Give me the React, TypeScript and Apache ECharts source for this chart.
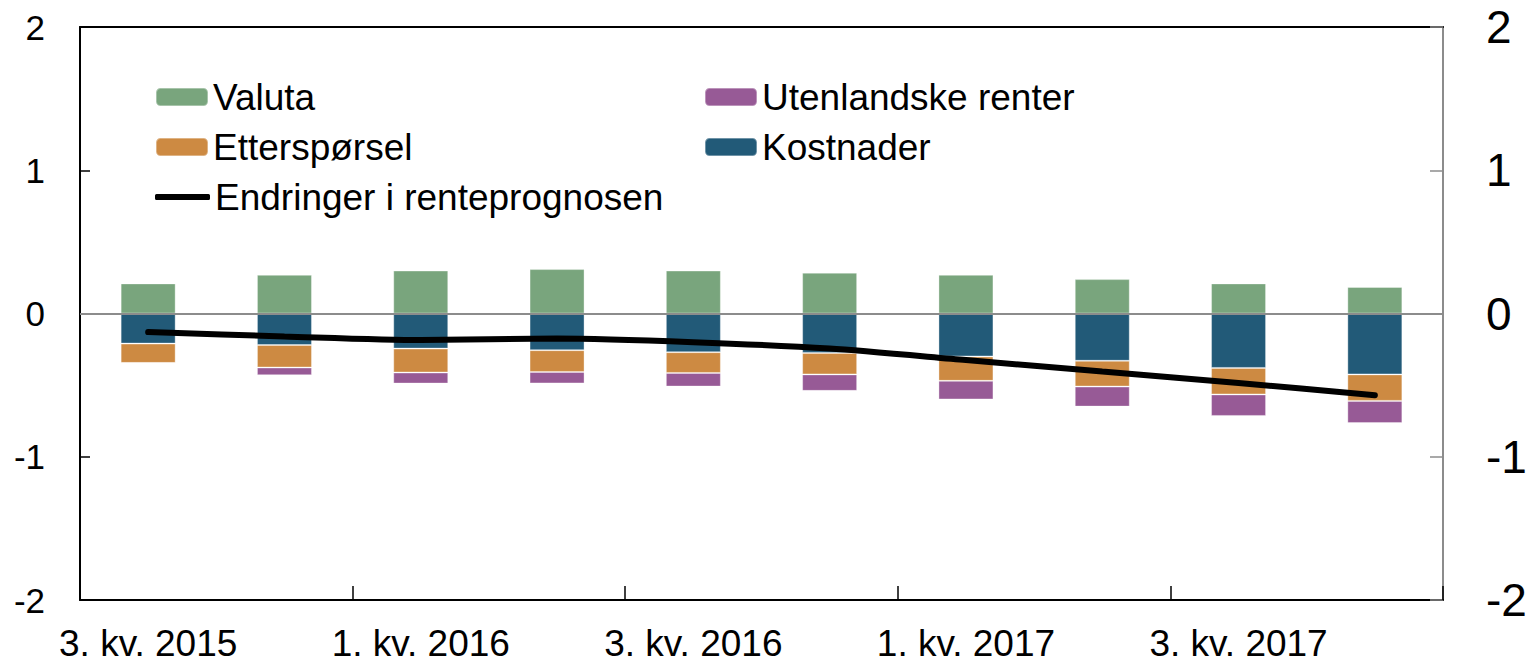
import React, { useEffect, useRef } from "react";
import * as echarts from "echarts";

const categories = [
  "3. kv. 2015", "4. kv. 2015", "1. kv. 2016", "2. kv. 2016", "3. kv. 2016",
  "4. kv. 2016", "1. kv. 2017", "2. kv. 2017", "3. kv. 2017", "4. kv. 2017",
];
const valuta = [0.21, 0.27, 0.30, 0.31, 0.30, 0.285, 0.27, 0.24, 0.21, 0.185];
const kostnader = [-0.21, -0.22, -0.245, -0.256, -0.27, -0.275, -0.30, -0.33, -0.38, -0.425];
const ettersporsel = [-0.135, -0.157, -0.167, -0.152, -0.145, -0.15, -0.17, -0.18, -0.185, -0.185];
const utenlandske = [0, -0.054, -0.077, -0.08, -0.095, -0.115, -0.13, -0.14, -0.15, -0.155];
const renteprognose = [-0.13, -0.16, -0.185, -0.175, -0.2, -0.245, -0.325, -0.405, -0.485, -0.57];
const yTicks = { min: -2, max: 2, interval: 1 };

const FONT = "'Liberation Sans', Arial, Helvetica, sans-serif";
const C_GREEN = "#79A57D";
const C_BLUE = "#225A78";
const C_ORANGE = "#CD8A42";
const C_PURPLE = "#975A96";

export default function App() {
  const ref = useRef<HTMLDivElement>(null);
  useEffect(() => {
    if (!ref.current) return;
    const chart = echarts.init(ref.current, undefined, { renderer: "svg" });
    const barCommon = {
      type: "bar",
      stack: "total",
      barWidth: 55,
      xAxisIndex: 0,
      yAxisIndex: 0,
    };
    const legendText = { fontSize: 37, color: "#000", fontFamily: FONT, lineHeight: 38 };
    chart.setOption({
      animation: false,
      textStyle: { fontFamily: FONT },
      grid: { left: 80, right: 93, top: 27, bottom: 63, containLabel: false },
      legend: [
        {
          left: 150,
          top: 73,
          orient: "vertical",
          itemWidth: 52,
          itemHeight: 18,
          itemGap: 12,
          data: ["Valuta", "Etterspørsel"],
          textStyle: legendText,
        },
        {
          left: 699,
          top: 73,
          orient: "vertical",
          itemWidth: 52,
          itemHeight: 18,
          itemGap: 12,
          data: ["Utenlandske renter", "Kostnader"],
          textStyle: legendText,
        },
        {
          left: 150,
          top: 173,
          orient: "vertical",
          itemWidth: 55,
          itemHeight: 6,
          icon: "roundRect",
          data: ["Endringer i renteprognosen"],
          textStyle: legendText,
        },
      ],
      xAxis: [
        {
          type: "category",
          data: categories,
          position: "bottom",
          boundaryGap: true,
          axisLine: { show: true, onZero: false, lineStyle: { color: "#000", width: 2 } },
          axisTick: { show: true, inside: true, interval: 1, length: 14, lineStyle: { color: "#000", width: 1.5 } },
          axisLabel: { interval: 1, fontSize: 37, lineHeight: 34, color: "#000", margin: 26, fontFamily: FONT },
          splitLine: { show: false },
        },
        {
          type: "category",
          data: categories,
          position: "top",
          axisLine: { show: true, onZero: false, lineStyle: { color: "#000", width: 2 } },
          axisTick: { show: false },
          axisLabel: { show: false },
          splitLine: { show: false },
        },
      ],
      yAxis: [
        {
          type: "value",
          position: "left",
          min: yTicks.min,
          max: yTicks.max,
          interval: yTicks.interval,
          axisLine: { show: true, lineStyle: { color: "#000", width: 2 } },
          axisTick: { show: true, inside: true, length: 10, lineStyle: { color: "#000", width: 1.5 } },
          axisLabel: { fontSize: 35, color: "#000", margin: 35, fontFamily: FONT },
          splitLine: { show: false },
        },
        {
          type: "value",
          position: "right",
          min: yTicks.min,
          max: yTicks.max,
          interval: yTicks.interval,
          axisLine: { show: true, lineStyle: { color: "#8c8c8c", width: 2 } },
          axisTick: { show: true, inside: true, length: 13, lineStyle: { color: "#8c8c8c", width: 1.5 } },
          axisLabel: { fontSize: 46, color: "#000", margin: 43, fontFamily: FONT },
          splitLine: { show: false },
        },
      ],
      series: [
        {
          ...barCommon,
          name: "Valuta",
          data: valuta,
          itemStyle: { color: C_GREEN, borderColor: "rgba(255,255,255,0.35)", borderWidth: 1 },
          markLine: {
            silent: true,
            symbol: "none",
            label: { show: false },
            lineStyle: { color: "#8c8c8c", width: 2, type: "solid" },
            data: [{ yAxis: 0 }],
          },
        },
        {
          ...barCommon,
          name: "Kostnader",
          data: kostnader,
          itemStyle: { color: C_BLUE, borderColor: "rgba(255,255,255,0.35)", borderWidth: 1 },
        },
        {
          ...barCommon,
          name: "Etterspørsel",
          data: ettersporsel,
          itemStyle: { color: C_ORANGE, borderColor: "rgba(255,255,255,0.35)", borderWidth: 1 },
        },
        {
          ...barCommon,
          name: "Utenlandske renter",
          data: utenlandske,
          itemStyle: { color: C_PURPLE, borderColor: "rgba(255,255,255,0.35)", borderWidth: 1 },
        },
        {
          type: "line",
          name: "Endringer i renteprognosen",
          data: renteprognose,
          xAxisIndex: 0,
          yAxisIndex: 0,
          symbol: "none",
          smooth: 0.25,
          z: 5,
          lineStyle: { color: "#000", width: 6, cap: "round" },
          itemStyle: { color: "#000" },
        },
      ],
    });
    return () => chart.dispose();
  }, []);
  return (
    <div
      ref={ref}
      style={{ position: "absolute", left: 0, top: 0, width: 1536, height: 663 }}
    />
  );
}
